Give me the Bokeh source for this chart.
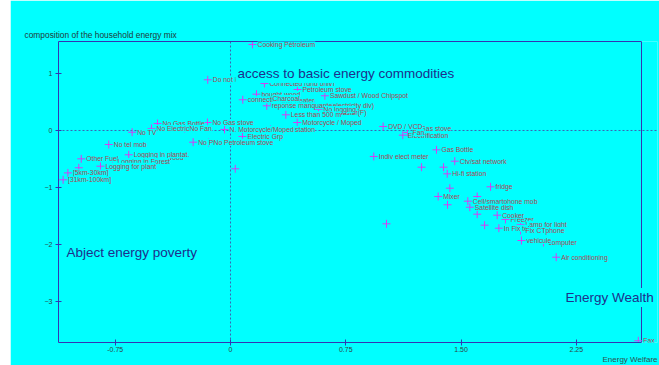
from bokeh.plotting import figure
from bokeh.models import (ColumnDataSource, LabelSet, Label, Span, FixedTicker, Range1d,
                          LinearAxis, Title)
from bokeh.core.properties import value
from bokeh.embed import file_html
from bokeh.resources import INLINE

# Household items positioned on the two factorial axes
# (axis 1: energy welfare, axis 2: composition of the household energy mix).
# Order is the drawing order: later labels sit on top of earlier ones.
items = [
    "Cooking Pétroleum", "Do not know", "Connected (grid only)", "Petroleum stove",
    "Sawdust / Wood Chipspot", "bought wood", "Water heater", "connection", "Charcoal",
    "Toaster(F)", "Bill (electricity div)", "reponse manquante", "No logging",
    "Less than 500 m", "Motorcycle / Moped", "Petrol station", "No Gas stove",
    "N. Motorcycle/Moped", "Electric Grp", "No Gas Bottle", "No Electric", "No Fan",
    "No TV", "No Pressure cooker", "No Petroleum stove", "No tel mob", "Firewood",
    "Logging in plantat.", "Other Fuel", "Logging in Forest", "Logging for plant",
    "[5km-30km]", "[31km-100km]", "Gas stove", "DVD / VCD", "Electrification", "Fan",
    "Gas Bottle", "Indiv elect meter", "Ctv/sat network", "Hi-fi station", "fridge",
    "Mixer", "Cell/smartphone mob", "Satellite dish", "Freezer", "Cooker",
    "Lamp for light", "In Fix tel", "Fix CTphone", "computer", "vehicule",
    "Air conditioning", "Fax",
]
welfare = [
    0.143, -0.148, 0.221, 0.436,
    0.614, 0.169, 0.260, 0.080, 0.241,
    0.651, 0.547, 0.236, 0.573,
    0.360, 0.434, 0.260, -0.150,
    -0.039, 0.078, -0.475, -0.514, -0.299,
    -0.640, -0.243, -0.143, -0.792, -0.520,
    -0.662, -0.971, -0.768, -0.846,
    -1.058, -1.089, 1.204, 0.993, 1.121, 1.152,
    1.340, 0.932, 1.459, 1.410, 1.692,
    1.351, 1.544, 1.557, 1.789, 1.735,
    1.887, 1.746, 1.887, 2.036, 1.893,
    2.119, 2.653,
]
energy_mix = [
    1.509, 0.889, 0.825, 0.719,
    0.609, 0.637, 0.526, 0.539, 0.561,
    0.316, 0.439, 0.433, 0.368,
    0.275, 0.140, 0.018, 0.140,
    0.018, -0.105, 0.123, 0.035, 0.035,
    -0.030, -0.205, -0.211, -0.246, -0.474,
    -0.426, -0.497, -0.544, -0.626,
    -0.744, -0.865, 0.035, 0.070, -0.082, -0.035,
    -0.339, -0.456, -0.539, -0.760, -0.988,
    -1.158, -1.240, -1.346, -1.561, -1.486,
    -1.649, -1.714, -1.754, -1.965, -1.930,
    -2.223, -3.689,
]

# Modalities whose labels are not printed
extra_welfare = [-0.987, 0.031, 1.243, 1.386, 1.427, 1.605, 1.412, 1.605, 1.653, 1.015]
extra_mix = [-0.654, -0.672, -0.644, -0.644, -1.012, -1.158, -1.303, -1.468, -1.661, -1.637]

x_ticks = [-0.75, 0, 0.75, 1.5, 2.25]
x_tick_labels = ["-0.75", "0", "0.75", "1.50", "2.25"]
y_ticks = [1, 0, -1, -2, -3]

# extent of the boxed plotting area; the canvas runs a little further right
X_MIN, X_MAX, X_CANVAS = -1.119, 2.674, 2.778
Y_MIN, Y_MAX = -3.719, 1.561

CYAN = "#00ffff"
AXIS = "#3434b4"
LABEL = "#ad4450"
MARK = "#d63cf2"
NAVY = "#1e2f8c"
FONT = "Liberation Sans"

p = figure(width=649, height=365, output_backend="svg", toolbar_location=None,
           x_range=Range1d(X_MIN, X_CANVAS), y_range=Range1d(Y_MIN, Y_MAX),
           min_border_left=48, min_border_right=2, min_border_top=41,
           min_border_bottom=23)
p.margin = (0, 0, 0, 10)
p.background_fill_color = CYAN
p.border_fill_color = CYAN
p.outline_line_color = None
p.grid.visible = False

# box edges: top via a bare axis, right via a span
top = LinearAxis(ticker=FixedTicker(ticks=[]), bounds=(X_MIN, X_MAX),
                 major_label_text_font_size="0px", axis_line_color=AXIS,
                 major_tick_line_color=None, minor_tick_line_color=None)
p.add_layout(top, "above")
p.add_layout(Span(location=X_MAX, dimension="height", line_color=AXIS,
                  line_width=1, level="underlay"))

bottom = [a for a in p.below if isinstance(a, LinearAxis)][0]
left = p.yaxis[0]
bottom.bounds = (X_MIN, X_MAX)
for ax in (bottom, left):
    ax.axis_line_color = AXIS
    ax.major_tick_line_color = AXIS
    ax.major_tick_in = 3
    ax.major_tick_out = 3
    ax.minor_tick_line_color = None
    ax.major_label_text_font = FONT
    ax.major_label_text_font_size = "7px"
    ax.major_label_text_color = "#2f4646"
bottom.major_label_standoff = 1
left.major_label_standoff = 3

bottom.ticker = FixedTicker(ticks=x_ticks)
bottom.major_label_overrides = {t: s for t, s in zip(x_ticks, x_tick_labels)}
left.ticker = FixedTicker(ticks=y_ticks)

# dotted lines through the origin
p.add_layout(Span(location=0, dimension="height", line_color="#3c64b4",
                  line_dash="2 2", line_width=1, level="underlay"))
p.add_layout(Span(location=0, dimension="width", line_color="#3c64b4",
                  line_dash="2 2", line_width=1, level="underlay"))

src = ColumnDataSource(dict(x=welfare, y=energy_mix, name=items))
p.scatter(extra_welfare, extra_mix, marker="cross", size=8, line_color=MARK, line_width=1)
p.scatter("x", "y", source=src, marker="cross", size=8, line_color=MARK, line_width=1)

p.add_layout(LabelSet(x="x", y="y", text="name", source=src, x_offset=5,
                      text_baseline="middle", text_font=value(FONT),
                      text_font_size=value("6.8px"), text_color=LABEL,
                      background_fill_color=CYAN))

# region captions (screen units from the frame's lower-left corner)
captions = [
    ("access to basic energy commodities", 177, 269),
    ("Abject energy poverty", 6, 90),
    ("Energy Wealth", 505, 45),
]
for txt, sx, sy in captions:
    p.add_layout(Label(x=sx, y=sy, x_units="screen", y_units="screen", text=txt,
                       text_font=FONT, text_font_size="13.5px", text_color=NAVY,
                       text_baseline="middle", background_fill_color=CYAN,
                       padding=2))

p.add_layout(Title(text="composition of the household energy mix", align="left",
                   offset=-34, standoff=3, text_font=FONT, text_font_size="8.4px",
                   text_font_style="normal", text_color="#213b3b"), "above")
p.add_layout(Title(text="Energy Welfare", align="right", standoff=-3,
                   text_font=FONT, text_font_size="8px", text_font_style="normal",
                   text_color="#2f4f4f"), "below")

open("out.html", "w").write(file_html(p, INLINE))
